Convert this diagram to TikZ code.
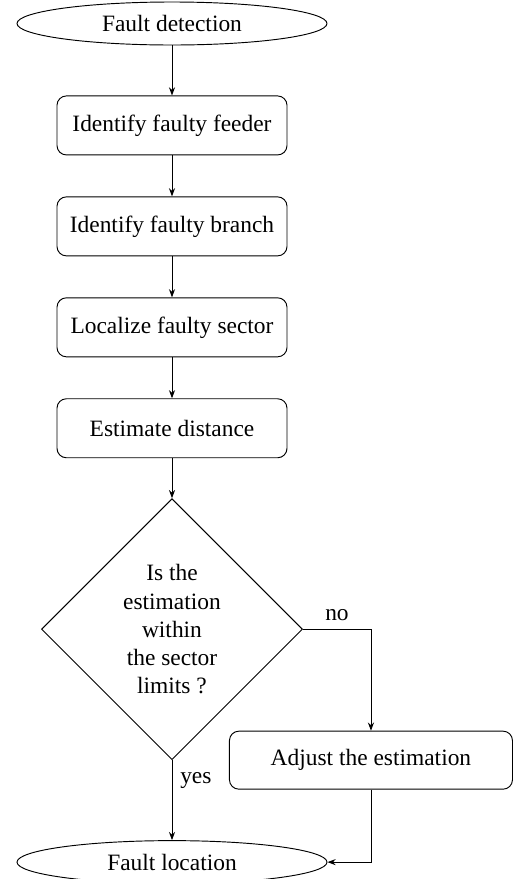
\documentclass[tikz,border=0pt]{standalone}
\usepackage{fontspec}
\setmainfont{Liberation Serif}
\usetikzlibrary{shapes.geometric,positioning,arrows.meta}

\tikzset{etape/.style={draw,rounded corners=4pt,minimum width=3.45cm,minimum height=0.885cm},
terminal/.style={draw,ellipse,inner sep=0pt,minimum width=4.65cm,minimum height=0.645cm},
test/.style={draw,diamond,align=center,inner sep=0pt,minimum size=3.915cm},
fleche/.style={-{Stealth[length=3.5pt,width=2.6pt]}}}

\begin{document}
\begin{tikzpicture}[node distance=0.615cm]
\useasboundingbox (-2.58,0.3525) rectangle (5.40,-12.8325);
\node[terminal] (debut) at (0,0) {Fault detection};
\node[etape, below=0.75cm of debut] (feeder) {Identify faulty feeder};
\node[etape, below=of feeder] (branch) {Identify faulty branch};
\node[etape, below=of branch] (sector) {Localize faulty sector};
\node[etape, below=of sector] (distance) {Estimate distance};
\node[test, below=0.6cm of distance] (limites) {Is the\\estimation\\within\\the sector\\limits ?};
\node[etape, minimum width=4.245cm, minimum height=0.87cm, right=0.855cm of limites.south] (ajuste) {Adjust the estimation};
\node[terminal, below=1.2cm of limites] (fin) {Fault location};

\draw[fleche] (debut) -- (feeder);
\draw[fleche] (feeder) -- (branch);
\draw[fleche] (branch) -- (sector);
\draw[fleche] (sector) -- (distance);
\draw[fleche] (distance) -- (limites);
\draw[fleche] (limites) -- node[right, near start]{yes} (fin);
\draw[fleche] (limites.east) -| node[above, near start]{no} (ajuste);
\draw[fleche] (ajuste) |- (fin);
\end{tikzpicture}
\end{document}
